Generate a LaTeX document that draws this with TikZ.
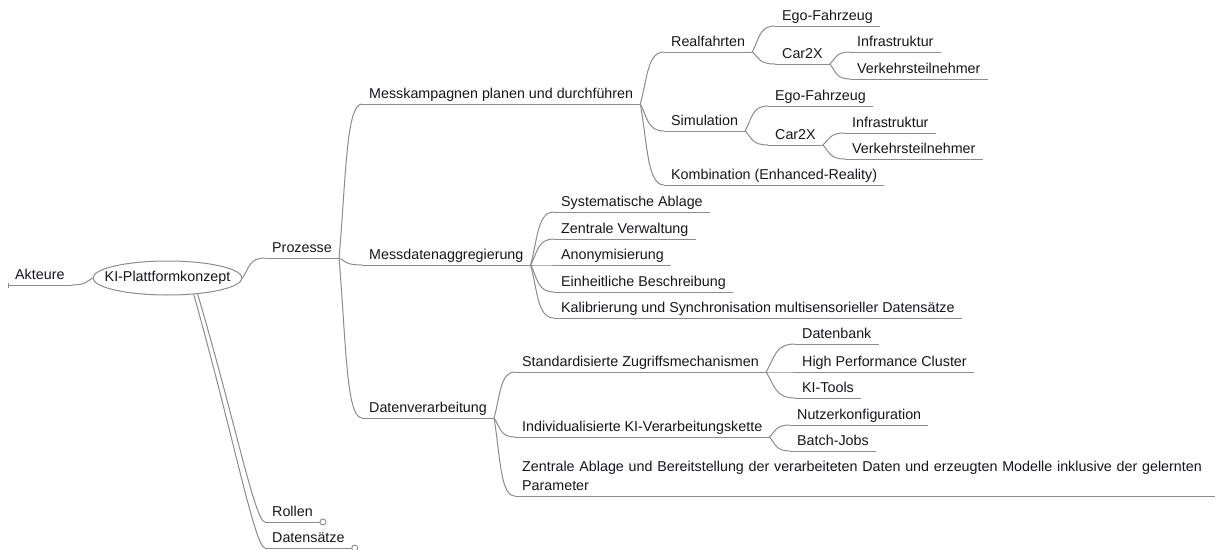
\documentclass[tikz,border=0pt]{standalone}
\usepackage{fontspec}
\setmainfont{Liberation Sans}
\usetikzlibrary{calc,shapes.geometric}
\definecolor{linegray}{RGB}{140,140,140}
\definecolor{ink}{RGB}{22,22,30}
\tikzset{
  topic/.style={anchor=south west, inner xsep=7pt, inner ysep=5.5pt, text depth=0pt,
    text=ink, font=\fontsize{14.3}{19}\selectfont},
  central/.style={ellipse, draw=linegray, line width=1pt, fill=white, inner xsep=-10.5pt,
    inner ysep=0pt, minimum width=149pt, minimum height=34pt, text=ink,
    font=\fontsize{14.3}{19}\selectfont},
  link/.style={draw=linegray, line width=1pt},
  fold/.style={draw=linegray, line width=0.9pt, fill=white},
}
% a topic: name, left edge, underline height, text
\newcommand\mmtopic[4]{%
  \node[topic] (#1) at (#2,#3) {#4};
  \draw[link] (#1.south west) -- (#1.south east);}
% curved branch from a parent's end to a child's start
\newcommand\mmlink[2]{%
  \draw[link] let \p1=(#1), \p2=(#2) in
    (\p1) .. controls ({\x1+0.3*(\x2-\x1)},{\y1+0.5*(\y2-\y1)})
              and ({\x1+0.3*(\x2-\x1)},{\y2}) .. (\p2);}
% long slanted branch hanging below the central topic
\newcommand\mmdrop[2]{%
  \draw[link] let \p1=(#1), \p2=(#2) in
    (\p1) .. controls ({\x1+0.55*(\x2-\x1)},{\y1+0.55*(\y2-\y1)})
              and ({\x2-10pt},{\y2}) .. (\p2);}
\begin{document}
\begin{tikzpicture}[x=1pt,y=-1pt]
\useasboundingbox (0,0) rectangle (1218,549);
\fill[white] (0,0) rectangle (1218,549);

% central topic
\node[central] (root) at (167.5,278) {KI-Plattformkonzept};

% left side
\mmtopic{akteure}{8}{285}{Akteure}
\draw[link] ([yshift=-2.5pt]akteure.south west) -- ([yshift=2.5pt]akteure.south west);
\mmlink{root.west}{akteure.south east}

% main branch
\mmtopic{prozesse}{265}{258}{Prozesse}
\mmlink{root.east}{prozesse.south west}

\mmtopic{messk}{362}{104}{Messkampagnen planen und durchführen}
\mmtopic{messd}{362}{265}{Messdatenaggregierung}
\mmtopic{datenv}{362}{418}{Datenverarbeitung}
\mmlink{prozesse.south east}{messk.south west}
\mmlink{prozesse.south east}{messd.south west}
\mmlink{prozesse.south east}{datenv.south west}

% measurement campaigns
\mmtopic{realf}{664}{52}{Realfahrten}
\mmtopic{simu}{664}{131}{Simulation}
\mmtopic{kombi}{664}{185}{Kombination (Enhanced-Reality)}
\mmlink{messk.south east}{realf.south west}
\mmlink{messk.south east}{simu.south west}
\mmlink{messk.south east}{kombi.south west}

\mmtopic{egoA}{775}{26}{Ego-Fahrzeug}
\mmtopic{carA}{775}{64}{Car2X}
\mmlink{realf.south east}{egoA.south west}
\mmlink{realf.south east}{carA.south west}
\mmtopic{infraA}{850}{52}{Infrastruktur}
\mmtopic{verkA}{850}{79}{Verkehrsteilnehmer}
\mmlink{carA.south east}{infraA.south west}
\mmlink{carA.south east}{verkA.south west}

\mmtopic{egoB}{768}{106}{Ego-Fahrzeug}
\mmtopic{carB}{768}{145}{Car2X}
\mmlink{simu.south east}{egoB.south west}
\mmlink{simu.south east}{carB.south west}
\mmtopic{infraB}{845}{133}{Infrastruktur}
\mmtopic{verkB}{845}{159}{Verkehrsteilnehmer}
\mmlink{carB.south east}{infraB.south west}
\mmlink{carB.south east}{verkB.south west}

% data aggregation
\mmtopic{sys}{554}{212}{Systematische Ablage}
\mmtopic{zent}{554}{239}{Zentrale Verwaltung}
\mmtopic{anon}{554}{265}{Anonymisierung}
\mmtopic{einh}{554}{292}{Einheitliche Beschreibung}
\mmtopic{kali}{554}{318}{Kalibrierung und Synchronisation multisensorieller Datensätze}
\foreach \c in {sys,zent,anon,einh,kali} {\mmlink{messd.south east}{\c.south west}}

% data processing
\mmtopic{std}{515}{372}{Standardisierte Zugriffsmechanismen}
\mmtopic{indiv}{515}{437}{Individualisierte KI-Verarbeitungskette}
\mmlink{datenv.south east}{std.south west}
\mmlink{datenv.south east}{indiv.south west}

\mmtopic{dbank}{795}{344}{Datenbank}
\mmtopic{hpc}{795}{372}{High Performance Cluster}
\mmtopic{kitools}{795}{398}{KI-Tools}
\foreach \c in {dbank,hpc,kitools} {\mmlink{std.south east}{\c.south west}}

\mmtopic{nutzer}{790}{425}{Nutzerkonfiguration}
\mmtopic{batch}{790}{451}{Batch-Jobs}
\mmlink{indiv.south east}{nutzer.south west}
\mmlink{indiv.south east}{batch.south west}

\node[anchor=base west, inner xsep=7pt, inner ysep=0pt, text=ink,
      font=\fontsize{14.3}{19}\selectfont, text width=686pt, align=left] (zab) at (515,471)
  {Zentrale Ablage und Bereitstellung der verarbeiteten Daten und erzeugten Modelle inklusive der gelernten\\Parameter};
\coordinate (zabL) at (515,496);
\coordinate (zabR) at (1215,496);
\draw[link] (zabL) -- (zabR);
\mmlink{datenv.south east}{zabL}

% folded branches below
\mmtopic{rollen}{265}{522}{Rollen}
\mmtopic{datens}{265}{548}{Datensätze}
\mmdrop{root.-28}{rollen.south west}
\mmdrop{root.-32}{datens.south west}
\draw[fold] ([xshift=3pt]rollen.south east) circle (3pt);
\draw[fold] ([xshift=3pt]datens.south east) circle (3pt);
\end{tikzpicture}
\end{document}
